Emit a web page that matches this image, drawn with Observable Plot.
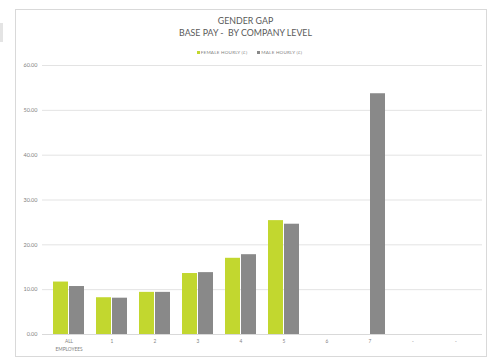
<!DOCTYPE html>
<html>
<head>
<meta charset="utf-8">
<script src="https://cdn.jsdelivr.net/npm/d3@7"></script>
<script src="https://cdn.jsdelivr.net/npm/@observablehq/plot@0.6"></script>
<style>
  html, body { margin: 0; padding: 0; background: #fff; }
  body { width: 491px; height: 361px; position: relative; overflow: hidden; font-family: Lato, "DejaVu Sans", sans-serif; }
  #frame { position: absolute; left: 15px; top: 9px; width: 472px; height: 348px; box-sizing: border-box; border: 1px solid #d9d9d9; }
  #tab { position: absolute; left: 0; top: 23px; width: 3px; height: 19px; background: #e4e4e4; }
  #head { position: relative; height: 57px; text-align: center; color: #595959; }
  #t1 { position: absolute; left: 0; right: 0; top: 15px; font-size: 8.8px; line-height: 11px; white-space: pre; }
  #t2 { position: absolute; left: 0; right: 0; top: 27px; font-size: 8.8px; line-height: 11px; white-space: pre; }
  #legend { position: absolute; left: 8px; right: 0; top: 49px; font-size: 4.6px; line-height: 6px; color: #7f7f7f; letter-spacing: 0.2px; }
  #legend span.sw { display: inline-block; width: 3px; height: 3px; margin-right: 1px; vertical-align: 0px; }
  #legend span.item { margin: 0 5px; }
  #chart { position: relative; }
</style>
</head>
<body>
<div id="frame"></div>
<div id="tab"></div>
<div id="head">
  <div id="t1"></div>
  <div id="t2"></div>
  <div id="legend"></div>
</div>
<div id="chart"></div>
<script>
const titleLines = ["GENDER GAP", "BASE PAY -  BY COMPANY LEVEL"];
const seriesNames = ["FEMALE HOURLY (£)", "MALE HOURLY (£)"];
const seriesColors = ["#c2d72f", "#898989"];
const categoryKeys = ["all", "1", "2", "3", "4", "5", "6", "7", "dash1", "dash2"];
const tickLabels = ["ALL\nEMPLOYEES", "1", "2", "3", "4", "5", "6", "7", "-", "-"];
const femaleValues = [11.7, 8.2, 9.4, 13.6, 17.0, 25.4, null, null, null, null];
const maleValues = [10.7, 8.1, 9.4, 13.8, 17.8, 24.6, null, 53.7, null, null];
const yTicks = [0, 10, 20, 30, 40, 50, 60];

document.getElementById("t1").textContent = titleLines[0];
document.getElementById("t2").textContent = titleLines[1];
const leg = document.getElementById("legend");
seriesNames.forEach((n, i) => {
  const item = document.createElement("span");
  item.className = "item";
  const sw = document.createElement("span");
  sw.className = "sw";
  sw.style.background = seriesColors[i];
  item.appendChild(sw);
  item.appendChild(document.createTextNode(n));
  leg.appendChild(item);
});

const female = categoryKeys.map((k, i) => ({cat: k, value: femaleValues[i]})).filter(d => d.value != null);
const male = categoryKeys.map((k, i) => ({cat: k, value: maleValues[i]})).filter(d => d.value != null);
const labelOf = new Map(categoryKeys.map((k, i) => [k, tickLabels[i]]));

const chart = Plot.plot({
  width: 491,
  height: 304,
  marginTop: 8,
  marginBottom: 27,
  marginLeft: 42,
  marginRight: 9,
  style: {background: "transparent", fontFamily: "Lato, 'DejaVu Sans', sans-serif"},
  x: {domain: categoryKeys, paddingInner: 0.27, paddingOuter: 0.15, axis: null, label: null},
  y: {domain: [0, 60], axis: null, label: null},
  marks: [
    Plot.gridY(yTicks, {stroke: "#e3e3e3", strokeOpacity: 1}),
    Plot.axisY(yTicks, {tickSize: 0, tickPadding: 5, tickFormat: d3.format(".2f"), fill: "#7f7f7f", fontSize: 5.5, label: null, style: "letter-spacing:0.8px"}),
    Plot.barY(female, {x: "cat", y: "value", fill: seriesColors[0], insetRight: 16}),
    Plot.barY(male, {x: "cat", y: "value", fill: seriesColors[1], insetLeft: 16}),
    Plot.ruleY([0], {stroke: "#d9d9d9"}),
    Plot.axisX({tickSize: 0, tickPadding: 3, tickFormat: d => labelOf.get(d), fill: "#7f7f7f", fontSize: 4.8, lineHeight: 1.6, label: null, style: "letter-spacing:0.8px"})
  ]
});
document.getElementById("chart").appendChild(chart);
</script>
</body>
</html>
